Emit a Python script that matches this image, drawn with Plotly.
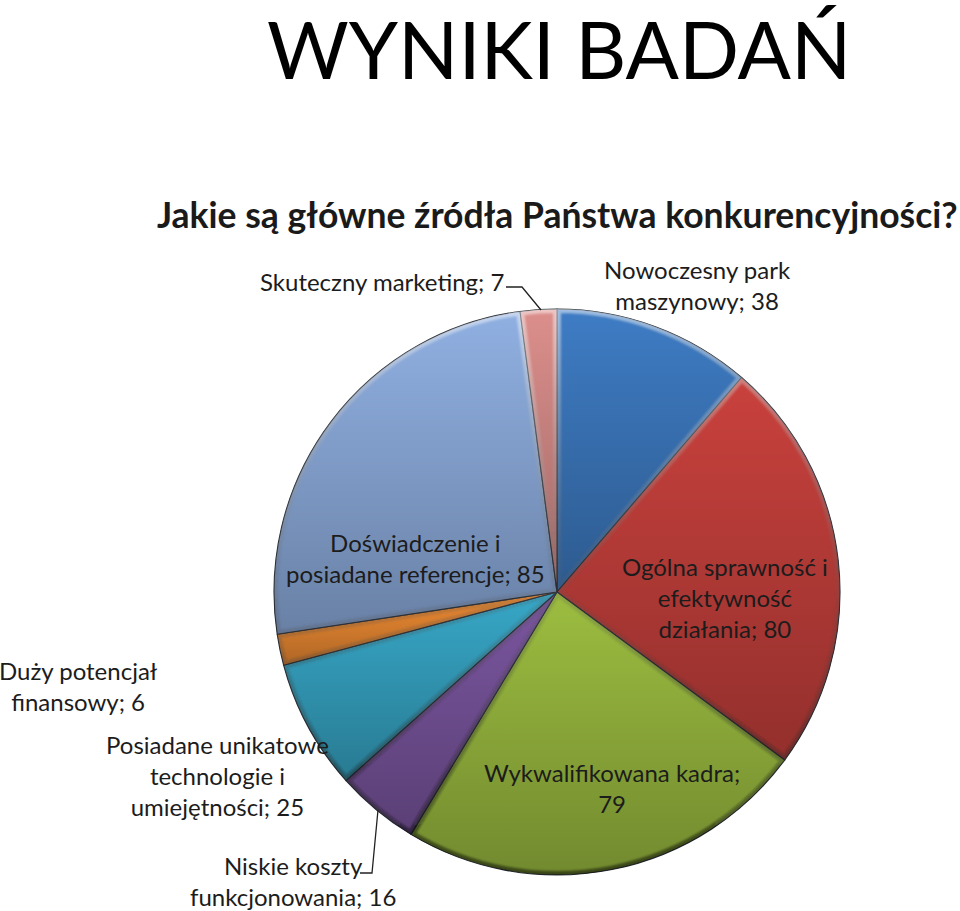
import base64
import math
import plotly.graph_objects as go

W, H = 960, 911
FONT = "Lato"

categories = ["Nowoczesny park maszynowy", "Ogólna sprawność i efektywność działania",
              "Wykwalifikowana kadra", "Niskie koszty funkcjonowania",
              "Posiadane unikatowe technologie i umiejętności", "Duży potencjał finansowy",
              "Doświadczenie i posiadane referencje", "Skuteczny marketing"]
values = [38, 80, 79, 16, 25, 6, 85, 7]
colors = ["#3e7cc4", "#c9413d", "#9cbd40", "#7b56a0", "#37a7c7", "#f08c33", "#90b0e2", "#dc8f8c"]

# label text split in lines the way the chart wraps them
label_lines = [["Nowoczesny park", "maszynowy; %d"],
               ["Ogólna sprawność i", "efektywność", "działania; %d"],
               ["Wykwalifikowana kadra;", "%d"],
               ["Niskie koszty", "funkcjonowania; %d"],
               ["Posiadane unikatowe", "technologie i", "umiejętności; %d"],
               ["Duży potencjał", "finansowy; %d"],
               ["Doświadczenie i", "posiadane referencje; %d"],
               ["Skuteczny marketing; %d"]]
label_pos = [(697, 285), (725, 597), (612, 788), (293, 881), (217, 775), (78, 686), (415, 558), (382, 282)]

cx, cy, r = 557, 592, 283


def px(x):
    return x / W


def py(y):
    return 1 - y / H


fig = go.Figure()
fig.add_trace(go.Pie(
    labels=categories, values=values, sort=False, direction="clockwise", rotation=0,
    marker=dict(colors=colors, line=dict(color="#2b3038", width=1.1)),
    textinfo="none", hoverinfo="label+value", showlegend=False,
    domain=dict(x=[px(cx - r), px(cx + r)], y=[py(cy + r), py(cy - r)]),
))

# each slice gets its own top-to-bottom shade and bevel, as in the office chart style
wedges = []
total = sum(values)
a0 = 0
for n, v in enumerate(values):
    a1 = a0 + v / total * 2 * math.pi
    x0, y0 = r + r * math.sin(a0), r - r * math.cos(a0)
    x1, y1 = r + r * math.sin(a1), r - r * math.cos(a1)
    d = f"M{r} {r}L{x0:.2f} {y0:.2f}A{r} {r} 0 {int(a1 - a0 > math.pi)} 1 {x1:.2f} {y1:.2f}Z"
    wedges.append(f'<clipPath id="c{n}"><path d="{d}"/></clipPath>'
                  f'<path d="{d}" fill="url(#g)"/>'
                  f'<path d="{d}" fill="none" stroke="url(#e)" stroke-width="8" '
                  f'clip-path="url(#c{n})" filter="url(#b)"/>')
    a0 = a1

svg = f"""<svg xmlns="http://www.w3.org/2000/svg" viewBox="0 0 {2*r} {2*r}" width="{2*r}" height="{2*r}">
<defs>
<linearGradient id="g" x1="0" y1="0" x2="0" y2="1">
<stop offset="0" stop-color="#000" stop-opacity="0"/>
<stop offset="1" stop-color="#000" stop-opacity="0.27"/>
</linearGradient>
<linearGradient id="e" gradientUnits="userSpaceOnUse" x1="0" y1="0" x2="0" y2="{2*r}">
<stop offset="0" stop-color="#fff" stop-opacity="0.5"/>
<stop offset="0.5" stop-color="#555" stop-opacity="0.2"/>
<stop offset="1" stop-color="#000" stop-opacity="0.5"/>
</linearGradient>
<filter id="b"><feGaussianBlur stdDeviation="0.8"/></filter>
</defs>
{''.join(wedges)}
</svg>"""
fig.add_layout_image(dict(
    source="data:image/svg+xml;base64," + base64.b64encode(svg.encode()).decode(),
    xref="paper", yref="paper", x=px(cx - r), y=py(cy - r),
    sizex=2 * r / W, sizey=2 * r / H, sizing="stretch", xanchor="left", yanchor="top", layer="above",
))

fig.add_annotation(text="WYNIKI BADAŃ", x=px(559), y=py(49), xref="paper", yref="paper", showarrow=False,
                   xanchor="center", yanchor="middle", font=dict(family=FONT, size=79, color="#000"))
fig.add_annotation(text="<b>Jakie są główne źródła Państwa konkurencyjności?</b>", x=px(155), y=py(215),
                   xref="paper", yref="paper", xanchor="left", yanchor="middle", showarrow=False,
                   font=dict(family=FONT, size=35.5, color="#1a1a1a"))

for lines, val, (lx, ly) in zip(label_lines, values, label_pos):
    text = "<br>".join(lines) % val
    fig.add_annotation(text=text, x=px(lx), y=py(ly), xref="paper", yref="paper", showarrow=False,
                       xanchor="center", yanchor="middle", align="center",
                       font=dict(family=FONT, size=24, color="#1c1c1c"))

# leader lines
leaders = [[(506, 287), (522, 287), (541, 310)], [(360, 873), (372, 873), (378, 810)]]
for pts in leaders:
    path = "M " + " L ".join(f"{px(a)} {py(b)}" for a, b in pts)
    fig.add_shape(type="path", path=path, xref="paper", yref="paper", line=dict(color="#222", width=1.3))

fig.update_layout(width=W, height=H, margin=dict(l=0, r=0, t=0, b=0), paper_bgcolor="white",
                  font=dict(family=FONT))
fig.write_html("out.html", config=dict(displayModeBar=False),
               post_script="document.body.style.margin='0';")
